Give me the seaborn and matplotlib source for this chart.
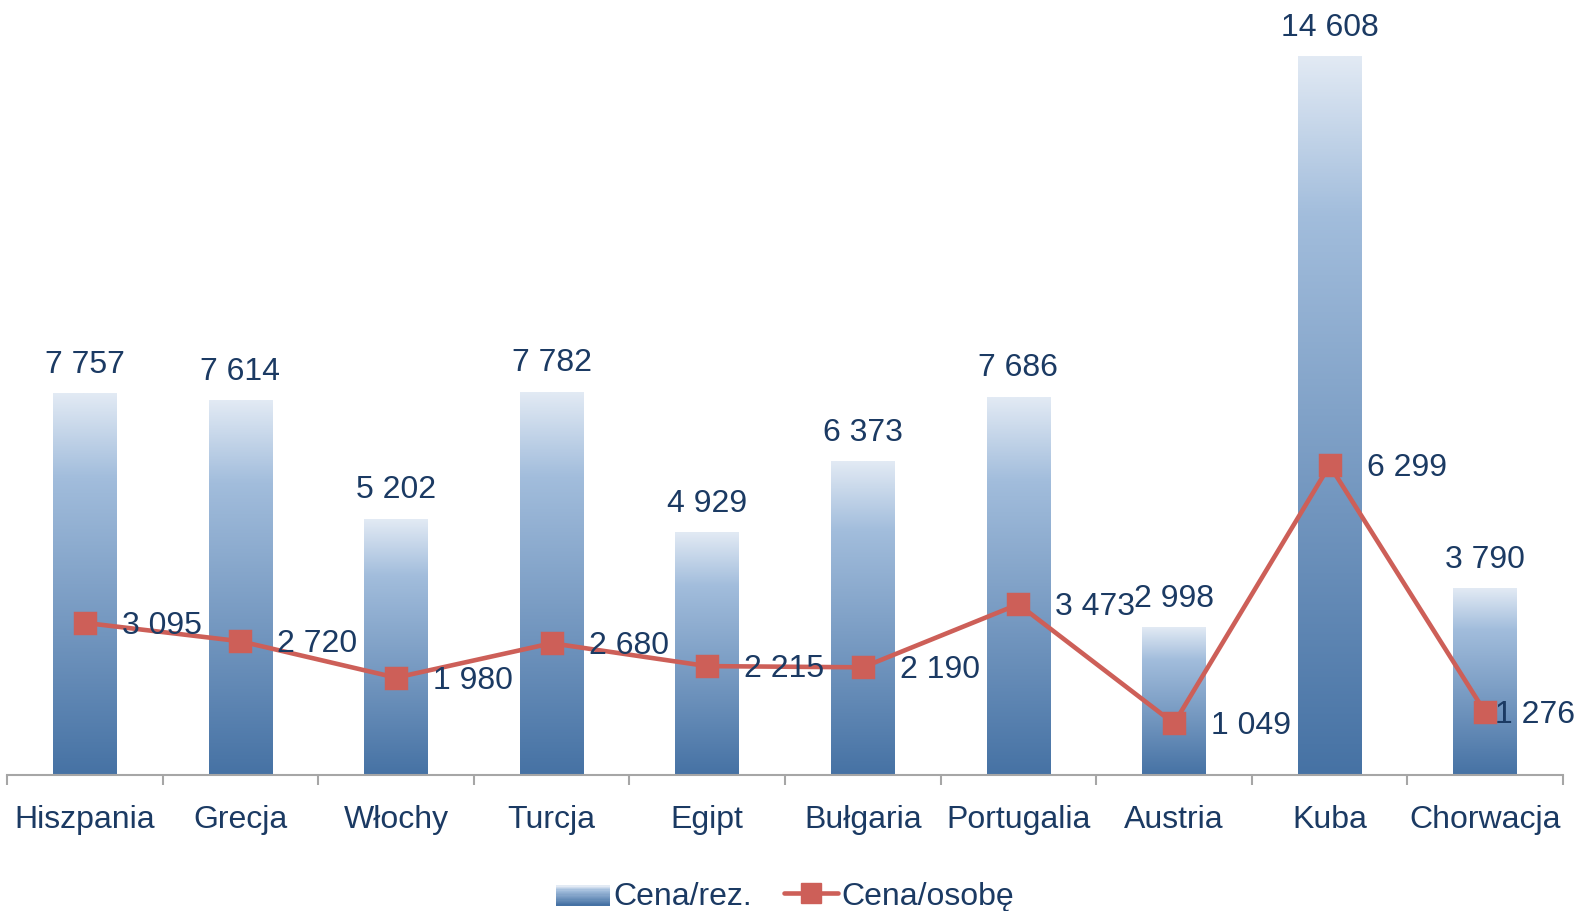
import numpy as np
import pandas as pd
import matplotlib
matplotlib.use("Agg")
import matplotlib.pyplot as plt
import seaborn as sns
from matplotlib.colors import LinearSegmentedColormap
from matplotlib.legend_handler import HandlerBase
from matplotlib.patches import Rectangle
from matplotlib.lines import Line2D

# ---- data ----
categories = ["Hiszpania", "Grecja", "Włochy", "Turcja", "Egipt",
              "Bułgaria", "Portugalia", "Austria", "Kuba", "Chorwacja"]
cena_rez = [7757, 7614, 5202, 7782, 4929, 6373, 7686, 2998, 14608, 3790]
cena_osobe = [3095, 2720, 1980, 2680, 2215, 2190, 3473, 1049, 6299, 1276]
series_names = ["Cena/rez.", "Cena/osobę"]

def fmt(v):
    return f"{v:,}".replace(",", " ")

sns.set_theme(style="white")
plt.rcParams['font.family'] = ['Liberation Sans', 'DejaVu Sans']

TXT = "#1b3a63"
RED = "#cd5f58"
FS = 23
cmap = LinearSegmentedColormap.from_list(
    "grad", [(0.0, "#4672a4"), (0.78, "#a2bddc"), (1.0, "#e2eaf4")])

fig = plt.figure(figsize=(15.79, 9.12), dpi=100)
ax = fig.add_axes([7 / 1579, (912 - 776) / 912, (1563 - 7) / 1579, 762 / 912])

df = pd.DataFrame({"cat": categories, "rez": cena_rez, "os": cena_osobe})
sns.barplot(data=df, x="cat", y="rez", order=categories, width=0.41,
            color="#4672a4", ax=ax, zorder=1)

ymax = 15500
grad = np.linspace(0, 1, 256).reshape(-1, 1)
for p in ax.patches:
    x0, w, h = p.get_x(), p.get_width(), p.get_height()
    p.set_facecolor("none")
    p.set_edgecolor("none")
    ax.imshow(grad, cmap=cmap, origin="lower", aspect="auto",
              extent=[x0, x0 + w, 0, h], zorder=1)
    ax.annotate(fmt(int(round(h))), (x0 + w / 2, h), xytext=(0, 15),
                textcoords="offset pixels", ha="center", va="bottom",
                fontsize=FS, color=TXT)

sns.pointplot(data=df, x="cat", y="os", order=categories, color=RED,
              markers="s", markersize=14, linewidth=3.3, ax=ax, zorder=3)
for ln in ax.lines:
    ln.set_markeredgecolor(RED)
    ln.set_zorder(3)

ax.set_xlim(-0.5, len(categories) - 0.5)
ax.set_ylim(0, ymax)
ax.set_xlabel("")
ax.set_ylabel("")
ax.set_yticks([])
for s in ["left", "right", "top"]:
    ax.spines[s].set_visible(False)
ax.spines["bottom"].set_color("#a6a6a6")
ax.spines["bottom"].set_linewidth(1.5)
ax.set_xticks(range(len(categories)))
ax.set_xticklabels(categories, fontsize=FS, color=TXT)
ax.tick_params(axis="x", which="major", length=0, pad=21)
ax.set_xticks(np.arange(-0.5, len(categories), 1.0), minor=True)
ax.tick_params(axis="x", which="minor", length=7.2, width=1.5,
               color="#a6a6a6", direction="out", bottom=True)

line_texts = []
for i, v in enumerate(cena_osobe):
    t = ax.annotate(fmt(v), (i, v), xytext=(37, -2), textcoords="offset pixels",
                    ha="left", va="center", fontsize=FS, color=TXT, zorder=4)
    line_texts.append(t)

# keep line labels inside the figure
fig.canvas.draw()
r = fig.canvas.get_renderer()
for t in line_texts:
    bb = t.get_window_extent(r)
    if bb.x1 > 1579 - 4:
        dx = bb.x1 - (1579 - 4)
        xt = t.xyann
        t.xyann = (xt[0] - dx, xt[1])


class GradHandler(HandlerBase):
    def create_artists(self, legend, orig, xd, yd, width, height, fontsize, trans):
        arts = []
        n = 16
        h = height * 0.9
        y0 = yd + (height - h) / 2 - 2
        for k in range(n):
            c = cmap(k / (n - 1))
            rct = Rectangle((xd, y0 + h * k / n), width, h / n + 0.3,
                            facecolor=c, edgecolor="none", transform=trans)
            arts.append(rct)
        return arts


bar_handle = Rectangle((0, 0), 1, 1)
line_handle = Line2D([0], [0], color=RED, lw=3.3, marker="s", markersize=14,
                     markeredgecolor=RED)
fig.legend([bar_handle, line_handle], series_names,
           handler_map={Rectangle: GradHandler()},
           loc="center", bbox_to_anchor=(0.497, 0.0165),
           bbox_transform=fig.transFigure, ncol=2, frameon=False,
           fontsize=FS, labelcolor=TXT, handlelength=1.7, handletextpad=0.1,
           columnspacing=1.0)

fig.savefig("out.png", dpi=100)
